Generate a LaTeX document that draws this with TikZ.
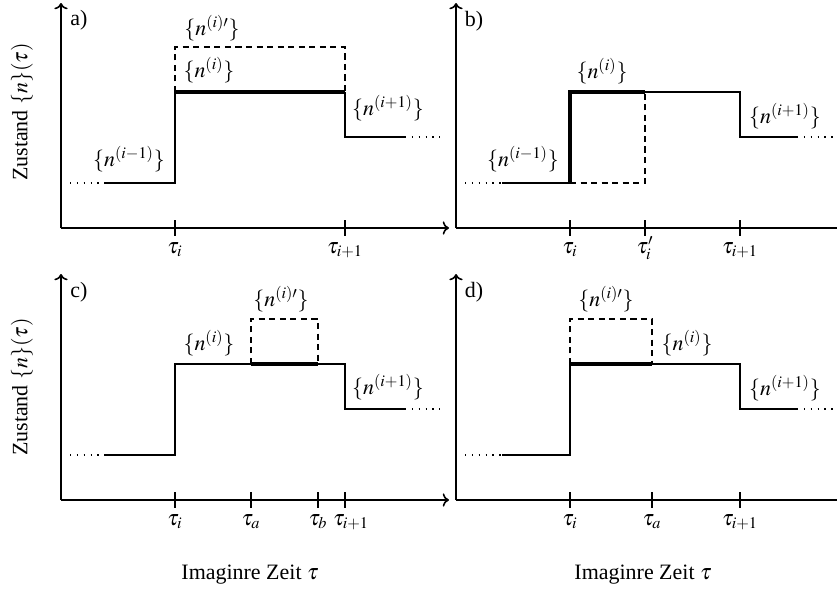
\documentclass[tikz,border=0pt]{standalone}
\usepackage{mathptmx}
\usepackage[no-math]{fontspec}
\setmainfont{Liberation Serif}
\usetikzlibrary{arrows.meta}
\tikzset{
  axis/.style={line width=0.9pt,->},
  level/.style={line width=0.9pt},
  hero/.style={line width=1.9pt},
  ghost/.style={line width=0.8pt,dash pattern=on 3.5pt off 2.5pt},
  trail/.style={line width=0.8pt,dash pattern=on 0.7pt off 3.2pt},
  tickmark/.style={line width=0.8pt},
  lbl/.style={inner sep=0pt},
}
\begin{document}
\begin{tikzpicture}[x=0.02cm,y=-0.02cm,font=\fontsize{12.5}{15}\selectfont]
  \useasboundingbox (0,0) rectangle (837,592);
  % axis origin, jump times, levels (pixel grid of one panel)
  \def\xo{61}\def\yo{228}
  \def\ti{175}\def\tn{345}
  \def\lo{183}\def\hi{92}\def\md{137}\def\tp{47}
  % ---------------- a) ----------------
  \begin{scope}
    \draw[axis] (\xo,\yo) -- (\xo,3);
    \draw[axis] (\xo,\yo) -- (449,\yo);
    \foreach \x/\t [count=\k] in {\ti/\tau_i,\tn/\tau_{i+1}}{%
      \draw[tickmark] (\x,220) -- (\x,236);
      \node[lbl,anchor=base] (ta\k) at (\x,253) {$\t$};}
    \draw[trail] (70,\lo) -- (105,\lo);
    \draw[level] (105,\lo) -- (\ti,\lo) -- (\ti,\hi);
    \draw[hero] (\ti,\hi) -- (\tn,\hi);
    \draw[level] (\tn,\hi) -- (\tn,\md) -- (405,\md);
    \draw[trail] (405,\md) -- (440,\md);
    \draw[ghost] (\ti,\hi) -- (\ti,\tp) -- (\tn,\tp) -- (\tn,\hi);
    \node[lbl] (pa) at (79,20) {a)};
    \node[lbl] (ya) at (22,112) [rotate=90] {Zustand $\{n\}(\tau)$};
    \node[lbl] (sa1) at (212,28) {$\{n^{(i)\prime}\}$};
    \node[lbl] (sa2) at (209,70) {$\{n^{(i)}\}$};
    \node[lbl] (sa3) at (388,108) {$\{n^{(i+1)}\}$};
    \node[lbl] (sa4) at (129,159) {$\{n^{(i-1)}\}$};
  \end{scope}
  % ---------------- b) ----------------
  \begin{scope}[shift={(395,0)}]
    \draw[axis] (\xo,\yo) -- (\xo,3);
    \draw[axis] (\xo,\yo) -- (460,\yo);
    \foreach \x/\t [count=\k] in {\ti/\tau_i,250/\tau_i^\prime,\tn/\tau_{i+1}}{%
      \draw[tickmark] (\x,220) -- (\x,236);
      \node[lbl,anchor=base] (tb\k) at (\x,253) {$\t$};}
    \draw[trail] (70,\lo) -- (107,\lo);
    \draw[level] (107,\lo) -- (\ti,\lo);
    \draw[hero] (\ti,\lo) -- (\ti,\hi) -- (250,\hi);
    \draw[level] (250,\hi) -- (\tn,\hi) -- (\tn,\md) -- (402,\md);
    \draw[trail] (402,\md) -- (442,\md);
    \draw[ghost] (\ti,\lo) -- (250,\lo) -- (250,\hi);
    \node[lbl] (pb) at (79,21) {b)};
    \node[lbl] (sb2) at (207,71) {$\{n^{(i)}\}$};
    \node[lbl] (sb3) at (390,116) {$\{n^{(i+1)}\}$};
    \node[lbl] (sb4) at (128,159) {$\{n^{(i-1)}\}$};
  \end{scope}
  % ---------------- c) ----------------
  \begin{scope}[shift={(0,272)}]
    \draw[axis] (\xo,\yo) -- (\xo,2);
    \draw[axis] (\xo,\yo) -- (449,\yo);
    \foreach \x/\t [count=\k] in {\ti/\tau_i,251/\tau_a,318/\tau_b}{%
      \draw[tickmark] (\x,220) -- (\x,236);
      \node[lbl,anchor=base] (tc\k) at (\x,253) {$\t$};}
    \draw[tickmark] (\tn,220) -- (\tn,236);
    \node[lbl,anchor=base] (tc4) at (351,253) {$\tau_{i+1}$};
    \draw[trail] (70,\lo) -- (105,\lo);
    \draw[level] (105,\lo) -- (\ti,\lo) -- (\ti,\hi) -- (251,\hi);
    \draw[hero] (251,\hi) -- (318,\hi);
    \draw[level] (318,\hi) -- (\tn,\hi) -- (\tn,\md) -- (405,\md);
    \draw[trail] (405,\md) -- (440,\md);
    \draw[ghost] (251,\hi) -- (251,\tp) -- (318,\tp) -- (318,\hi);
    \node[lbl] (pc) at (79,20) {c)};
    \node[lbl] (yc) at (22,115) [rotate=90] {Zustand $\{n\}(\tau)$};
    \node[lbl] (sc1) at (281,27) {$\{n^{(i)\prime}\}$};
    \node[lbl] (sc2) at (209,71) {$\{n^{(i)}\}$};
    \node[lbl] (sc3) at (388,115) {$\{n^{(i+1)}\}$};
    \node[lbl] (xc) at (250,303) {Imaginre Zeit $\tau$};
  \end{scope}
  % ---------------- d) ----------------
  \begin{scope}[shift={(395,272)}]
    \draw[axis] (\xo,\yo) -- (\xo,2);
    \draw[axis] (\xo,\yo) -- (460,\yo);
    \foreach \x/\t [count=\k] in {\ti/\tau_i,257/\tau_a,\tn/\tau_{i+1}}{%
      \draw[tickmark] (\x,220) -- (\x,236);
      \node[lbl,anchor=base] (td\k) at (\x,253) {$\t$};}
    \draw[trail] (70,\lo) -- (107,\lo);
    \draw[level] (107,\lo) -- (\ti,\lo) -- (\ti,\hi);
    \draw[hero] (\ti,\hi) -- (257,\hi);
    \draw[level] (257,\hi) -- (\tn,\hi) -- (\tn,\md) -- (402,\md);
    \draw[trail] (402,\md) -- (442,\md);
    \draw[ghost] (\ti,\hi) -- (\ti,\tp) -- (257,\tp) -- (257,\hi);
    \node[lbl] (pd) at (79,20) {d)};
    \node[lbl] (sd1) at (211,27) {$\{n^{(i)\prime}\}$};
    \node[lbl] (sd2) at (292,71) {$\{n^{(i)}\}$};
    \node[lbl] (sd3) at (390,116) {$\{n^{(i+1)}\}$};
    \node[lbl] (xd) at (248,303) {Imaginre Zeit $\tau$};
  \end{scope}
\end{tikzpicture}
\end{document}
